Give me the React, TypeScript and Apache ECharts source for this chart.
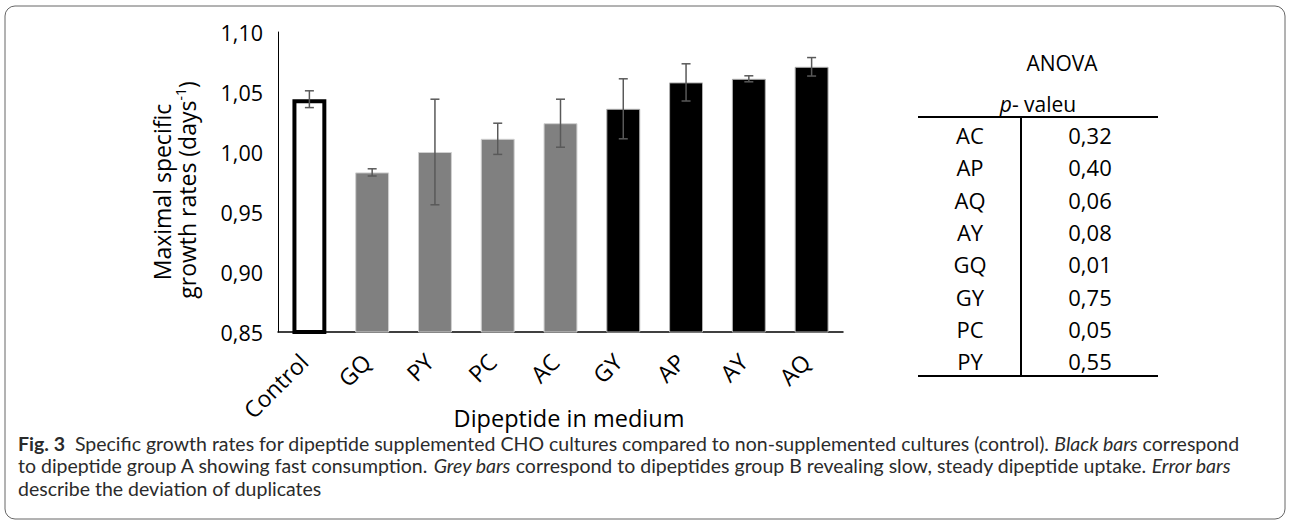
import React, { useEffect, useRef } from 'react';
import * as echarts from 'echarts';

const categories = ['Control', 'GQ', 'PY', 'PC', 'AC', 'GY', 'AP', 'AY', 'AQ'];
const growthRates = [1.044, 0.983, 1.0, 1.011, 1.024, 1.036, 1.058, 1.061, 1.071];
const deviations = [0.007, 0.003, 0.044, 0.013, 0.02, 0.025, 0.0155, 0.0025, 0.0077];
const groups = ['control', 'B', 'B', 'B', 'B', 'A', 'A', 'A', 'A'];
const yMin = 0.85;
const yMax = 1.1;
const yStep = 0.05;

const anovaPairs = ['AC', 'AP', 'AQ', 'AY', 'GQ', 'GY', 'PC', 'PY'];
const anovaPValues = ['0,32', '0,40', '0,06', '0,08', '0,01', '0,75', '0,05', '0,55'];

const captionLines = [
  '{b|Fig. 3}  Specific growth rates for dipeptide supplemented CHO cultures compared to non-supplemented cultures (control). {i|Black bars} correspond',
  'to dipeptide group A showing fast consumption. {i|Grey bars} correspond to dipeptides group B revealing slow, steady dipeptide uptake. {i|Error bars}',
  'describe the deviation of duplicates',
];

const FONT = '"Open Sans", "Noto Sans", sans-serif';
const CAP_FONT = 'Lato, "Open Sans", sans-serif';
const CAP_SIZE = 19.5;
const CAP_COLOR = '#2b2b2b';

function barStyle(g: string) {
  if (g === 'control') return { color: '#ffffff', borderColor: '#000000', borderWidth: 4 };
  if (g === 'B') return { color: '#808080', borderColor: '#d0d0d0', borderWidth: 1 };
  return { color: '#000000', borderColor: '#b0b0b0', borderWidth: 1 };
}

export default function App() {
  const ref = useRef<HTMLDivElement>(null);
  useEffect(() => {
    document.body.style.margin = '0';
    const chart = echarts.init(ref.current!, null, { renderer: 'svg' });

    const tableTop = 117;
    const rowH = 32.3;
    const TF = 22;
    const tableGraphics: any[] = [];
    tableGraphics.push({
      type: 'text', x: 1062, y: 63,
      style: { text: 'ANOVA', fontSize: TF - 1, fontFamily: FONT, fill: '#000', align: 'center', verticalAlign: 'middle' },
    });
    tableGraphics.push({
      type: 'text', x: 1038, y: 104,
      style: {
        text: '{p|p}- valeu', fontSize: TF - 1, fontFamily: FONT, fill: '#000', align: 'center', verticalAlign: 'middle',
        rich: { p: { fontStyle: 'italic', fontSize: TF - 1, fontFamily: FONT } },
      },
    });
    tableGraphics.push({ type: 'line', shape: { x1: 918, y1: tableTop, x2: 1158, y2: tableTop }, style: { stroke: '#000', lineWidth: 2 } });
    tableGraphics.push({ type: 'line', shape: { x1: 918, y1: 376, x2: 1158, y2: 376 }, style: { stroke: '#000', lineWidth: 2 } });
    tableGraphics.push({ type: 'line', shape: { x1: 1021, y1: tableTop, x2: 1021, y2: 376 }, style: { stroke: '#000', lineWidth: 2 } });
    anovaPairs.forEach((p, i) => {
      const y = 135 + i * rowH;
      tableGraphics.push({ type: 'text', x: 970, y, style: { text: p, fontSize: TF, fontFamily: FONT, fill: '#000', align: 'center', verticalAlign: 'middle' } });
      tableGraphics.push({ type: 'text', x: 1090, y, style: { text: anovaPValues[i], fontSize: TF, fontFamily: FONT, fill: '#000', align: 'center', verticalAlign: 'middle' } });
    });

    const captionGraphics = captionLines.map((t, i) => ({
      type: 'text', x: 18, y: 443 + i * 22.5,
      style: {
        text: t, fontSize: CAP_SIZE, fontFamily: CAP_FONT, fill: CAP_COLOR, align: 'left', verticalAlign: 'middle',
        rich: {
          b: { fontWeight: 'bold', fontSize: CAP_SIZE, fontFamily: CAP_FONT, fill: CAP_COLOR },
          i: { fontStyle: 'italic', fontSize: CAP_SIZE, fontFamily: CAP_FONT, fill: CAP_COLOR },
        },
      },
    }));

    const option: any = {
      animation: false,
      backgroundColor: '#ffffff',
      textStyle: { fontFamily: FONT },
      grid: { left: 278, right: 447, top: 32, bottom: 193, containLabel: false },
      xAxis: {
        type: 'category',
        data: categories,
        axisLine: { show: true, lineStyle: { color: '#000', width: 1.5 } },
        axisTick: { show: false },
        axisLabel: { rotate: 45, fontSize: 23, color: '#000', fontFamily: FONT, margin: 20, padding: [0, 8, 0, 0], interval: 0 },
      },
      yAxis: {
        type: 'value',
        min: yMin,
        max: yMax,
        interval: yStep,
        axisLine: { show: true, lineStyle: { color: '#000', width: 1 } },
        axisTick: { show: false },
        splitLine: { show: false },
        axisLabel: {
          fontSize: 21.5, color: '#000', fontFamily: FONT, margin: 15,
          formatter: (v: number) => v.toFixed(2).replace('.', ','),
        },
      },
      series: [
        {
          type: 'bar',
          barWidth: '54%',
          data: growthRates.map((v, i) => ({ value: v, itemStyle: barStyle(groups[i]) })),
          z: 2,
        },
        {
          type: 'custom',
          z: 3,
          encode: { x: 0, y: [1, 2] },
          data: growthRates.map((v, i) => [i, v - deviations[i], v + deviations[i]]),
          renderItem: (params: any, api: any) => {
            const idx = api.value(0);
            const lo = api.coord([idx, api.value(1)]);
            const hi = api.coord([idx, api.value(2)]);
            const half = 4.5;
            const style = { stroke: '#595959', lineWidth: 1.5 };
            return {
              type: 'group',
              children: [
                { type: 'line', shape: { x1: lo[0], y1: lo[1], x2: hi[0], y2: hi[1] }, style },
                { type: 'line', shape: { x1: lo[0] - half, y1: lo[1], x2: lo[0] + half, y2: lo[1] }, style },
                { type: 'line', shape: { x1: hi[0] - half, y1: hi[1], x2: hi[0] + half, y2: hi[1] }, style },
              ],
            };
          },
        },
      ],
      graphic: [
        {
          type: 'rect', shape: { x: 5, y: 6, width: 1280, height: 513, r: 10 },
          style: { fill: 'none', stroke: '#666', lineWidth: 1 }, z: -1,
        },
        {
          type: 'text', x: 162, y: 192, rotation: Math.PI / 2,
          style: { text: 'Maximal specific', fontSize: 23, fontFamily: FONT, fill: '#000', align: 'center', verticalAlign: 'middle' },
        },
        {
          type: 'text', x: 187, y: 190, rotation: Math.PI / 2,
          style: {
            text: '{n|growth rates (days}{s|-1}{n|)}', fontSize: 23, fontFamily: FONT, fill: '#000', align: 'center', verticalAlign: 'middle',
            rich: {
              n: { fontSize: 23, fontFamily: FONT, fill: '#000', lineHeight: 28, verticalAlign: 'middle' },
              s: { fontSize: 14, fontFamily: FONT, fill: '#000', lineHeight: 15, verticalAlign: 'top' },
            },
          },
        },
        {
          type: 'text', x: 569, y: 418,
          style: { text: 'Dipeptide in medium', fontSize: 23.5, fontFamily: FONT, fill: '#000', align: 'center', verticalAlign: 'middle' },
        },
        ...tableGraphics,
        ...captionGraphics,
      ],
    };
    chart.setOption(option);
    return () => chart.dispose();
  }, []);
  return <div ref={ref} style={{ width: 1290, height: 525 }} />;
}
